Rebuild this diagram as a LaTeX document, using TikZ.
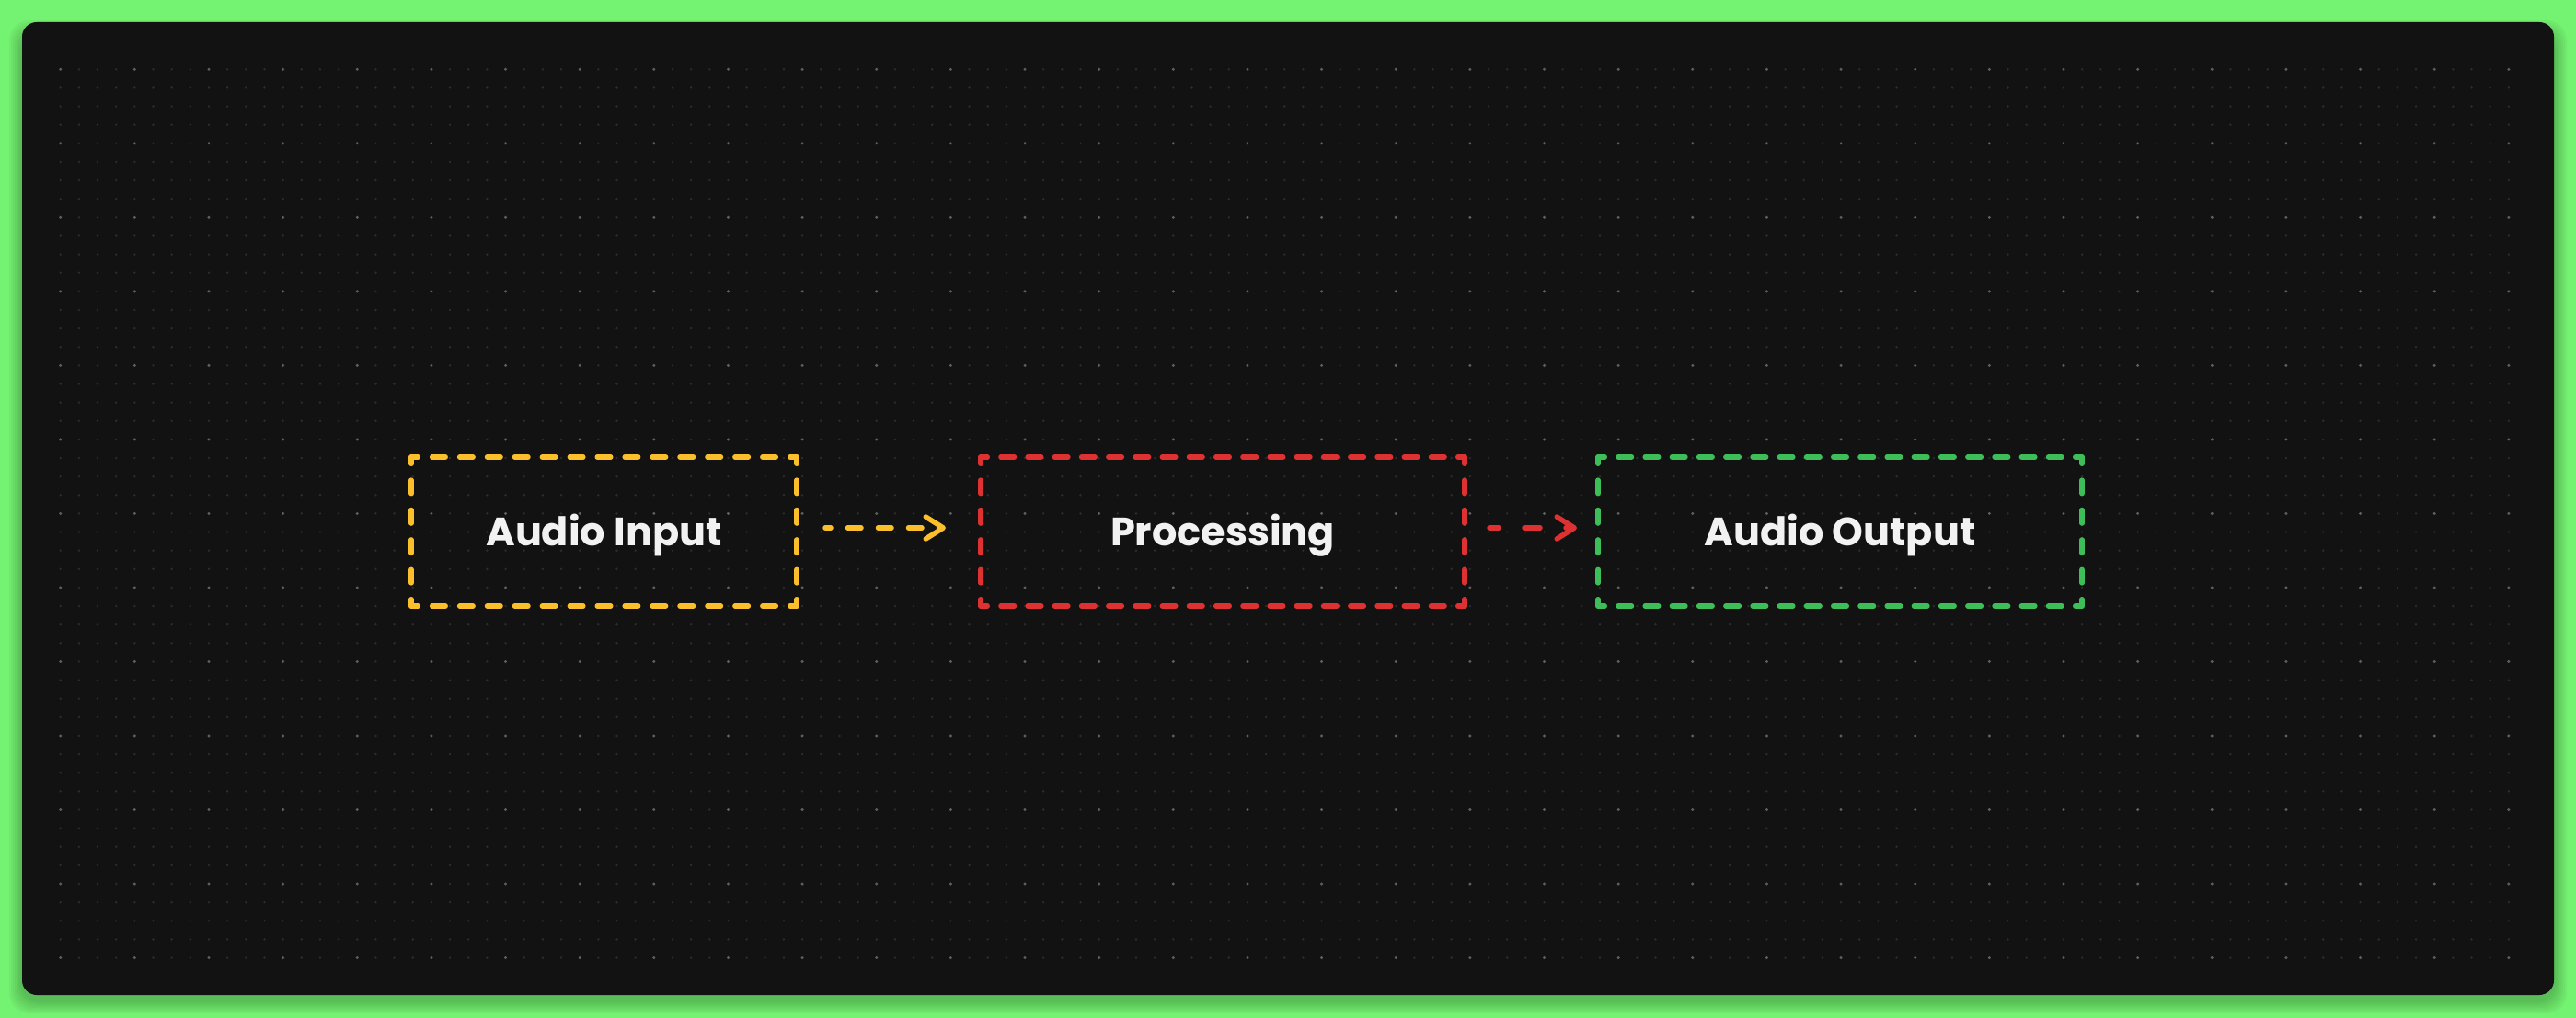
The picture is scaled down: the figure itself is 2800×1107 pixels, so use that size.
\documentclass[tikz,border=0pt]{standalone}
\usepackage{fontspec}
\setmainfont{Poppins}
\usetikzlibrary{positioning,arrows.meta}

\definecolor{bggreen}{HTML}{74F271}
\definecolor{panel}{HTML}{121212}
\definecolor{dotdim}{HTML}{2C2C2C}
\definecolor{dotbright}{HTML}{5E5E5E}
\definecolor{amber}{HTML}{FBBF2C}
\definecolor{crimson}{HTML}{DE3232}
\definecolor{leaf}{HTML}{3DBE58}
\definecolor{chalk}{HTML}{F2F2F2}

\begin{document}
\begin{tikzpicture}[x=1pt,y=-1pt,
    stage/.style={minimum height=162pt,inner sep=0pt,outer sep=0pt,text=chalk,text height=31pt,text depth=0pt,font=\fontsize{43}{50}\selectfont\bfseries},
    edge/.style={line width=5.5pt,line cap=round,dash phase=7.25pt},
    flow/.style={line width=5.5pt,line cap=round,-{Straight Barb[length=19pt,width=24pt,round]}}]

	% page and card
	\fill[bggreen] (0,0) rectangle (2800,1107);
	\foreach \s in {2,4,...,14}
		\fill[black,opacity=0.03,rounded corners=22pt] (24-\s,36-\s) rectangle (2776+\s,1088+\s);
	\fill[panel,rounded corners=16pt] (24,24) rectangle (2776,1082);

	% dot grid
	\begin{scope}
		\clip (24,24) rectangle (2776,1043);
		\foreach \r in {0,...,48}
			\draw[dotdim,line width=2.7pt,line cap=round,dash pattern=on 0pt off 20.16pt] (65.7,75.3+20.13*\r) -- (2740,75.3+20.13*\r);
		\foreach \r in {0,4,...,48}
			\draw[dotbright,line width=3.3pt,line cap=round,dash pattern=on 0pt off 80.64pt] (65.7,75.3+20.13*\r) -- (2740,75.3+20.13*\r);
	\end{scope}

	\node[stage,minimum width=419pt] (inp) at (656.5,578) {Audio Input};
	\node[stage,minimum width=526pt,right=200pt of inp] (proc) {Processing};
	\node[stage,minimum width=526pt,right=145pt of proc] (outp) {Audio Output};

	% dashed borders, one dash centred on each corner
	\foreach \n/\c/\w/\h in {inp/amber/419/162,proc/crimson/526/162,outp/leaf/526/162}{
		\pgfmathsetlengthmacro{\hgap}{\w/round(\w/30)-14.5}
		\pgfmathsetlengthmacro{\vgap}{\h/round(\h/30)-14.5}
		\draw[edge,\c,dash pattern=on 14.5pt off \hgap] (\n.north west) -- (\n.north east) (\n.south west) -- (\n.south east);
		\draw[edge,\c,dash pattern=on 14.5pt off \vgap] (\n.north west) -- (\n.south west) (\n.north east) -- (\n.south east);
	}

	\draw[flow,amber,dash pattern=on 14.5pt off 18.5pt,dash phase=8.5pt,shorten <=31pt,shorten >=38pt] ([yshift=4pt]inp.east) -- ([yshift=4pt]proc.west);
	\draw[flow,crimson,dash pattern=on 17pt off 28pt,dash phase=7pt,shorten <=27pt,shorten >=23pt] ([yshift=4pt]proc.east) -- ([yshift=4pt]outp.west);
\end{tikzpicture}
\end{document}
